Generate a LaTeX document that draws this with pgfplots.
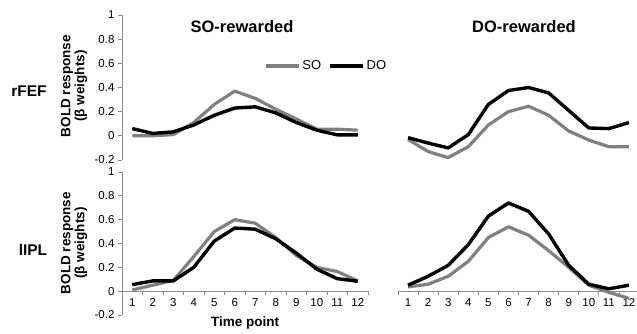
\documentclass[border=0pt]{standalone}
\usepackage{pgfplots}
\usepackage{pgfplotstable}
\pgfplotsset{compat=1.18}
\usepackage{fontspec}
\setmainfont{Liberation Sans}
\definecolor{sogray}{RGB}{128,128,128}
\definecolor{axgray}{RGB}{140,140,140}

% SO-rewarded, rFEF
\pgfplotstableread{
t SO DO
1 0.00 0.06
2 0.00 0.02
3 0.01 0.033
4 0.11 0.09
5 0.26 0.17
6 0.37 0.23
7 0.31 0.24
8 0.22 0.19
9 0.14 0.11
10 0.055 0.047
11 0.055 0.008
12 0.047 0.008
}\tlt
% DO-rewarded, rFEF
\pgfplotstableread{
t SO DO
1 -0.03 -0.015
2 -0.13 -0.06
3 -0.18 -0.10
4 -0.09 0.01
5 0.09 0.26
6 0.20 0.375
7 0.245 0.40
8 0.17 0.355
9 0.04 0.21
10 -0.035 0.065
11 -0.09 0.06
12 -0.09 0.11
}\trt
% SO-rewarded, lIPL
\pgfplotstableread{
t SO DO
1 0.01 0.055
2 0.05 0.086
3 0.09 0.086
4 0.29 0.20
5 0.50 0.42
6 0.60 0.53
7 0.57 0.52
8 0.45 0.44
9 0.30 0.32
10 0.20 0.185
11 0.165 0.105
12 0.086 0.083
}\blt
% DO-rewarded, lIPL
\pgfplotstableread{
t SO DO
1 0.036 0.05
2 0.058 0.125
3 0.125 0.217
4 0.25 0.39
5 0.45 0.63
6 0.54 0.74
7 0.47 0.67
8 0.34 0.48
9 0.20 0.217
10 0.05 0.058
11 -0.01 0.02
12 -0.06 0.05
}\brt

\pgfplotsset{
  panel/.style={scale only axis, xmin=0.5, xmax=12.5, ymin=-0.2, ymax=1, clip=false,
    tick label style={font=\fontsize{11.5}{13}\selectfont, text=black},
    axis line style={-, axgray, line width=0.9pt},
    major tick length=4pt, minor tick length=4pt,
    every tick/.style={axgray, line width=0.8pt},
  },
  yL/.style={axis y line*=left, ytick={-0.2,0,0.2,0.4,0.6,0.8,1},
    yticklabels={-0.2,0,0.2,0.4,0.6,0.8,1}, ytick align=outside},
  xB/.style={axis x line*=middle, xtick={1,2,3,4,5,6,7,8,9,10,11,12},
    xticklabels={1,2,3,4,5,6,7,8,9,10,11,12},
    major x tick style={draw=none},
    minor xtick={0.5,1.5,2.5,3.5,4.5,5.5,6.5,7.5,8.5,9.5,10.5,11.5,12.5},
    minor x tick style={axgray, line width=0.8pt},
    xtick align=outside},
  soline/.style={sogray, line width=3.2pt, line join=round, no markers},
  doline/.style={black, line width=3.4pt, line join=round, no markers},
}

\begin{document}
\begin{tikzpicture}[x=1pt,y=1pt]
% top-left
\begin{axis}[panel, yL, hide x axis, at={(122pt,173pt)}, anchor=south west,
  width=246pt, height=145pt,
  legend style={at={(rel axis cs:0.83,0.648)}, anchor=center, draw=none, fill=none,
    legend columns=2, font=\fontsize{13}{14}\selectfont,
    /tikz/every even column/.append style={column sep=5pt}},
  legend image code/.code={\draw[#1] (0pt,0pt) -- (33pt,0pt);}]
\addplot[soline] table[x=t,y=SO] {\tlt};
\addlegendentry{SO}
\addplot[doline] table[x=t,y=DO] {\tlt};
\addlegendentry{DO}
\end{axis}
% top-right
\begin{axis}[panel, hide axis, at={(398pt,173pt)}, anchor=south west,
  width=241pt, height=145pt]
\addplot[soline] table[x=t,y=SO] {\trt};
\addplot[doline] table[x=t,y=DO] {\trt};
\end{axis}
% bottom-left
\begin{axis}[panel, yL, xB, at={(122pt,18pt)}, anchor=south west,
  width=246pt, height=143pt]
\addplot[soline] table[x=t,y=SO] {\blt};
\addplot[doline] table[x=t,y=DO] {\blt};
\end{axis}
% bottom-right
\begin{axis}[panel, xB, hide y axis, at={(398pt,18pt)}, anchor=south west,
  width=241pt, height=143pt]
\addplot[soline] table[x=t,y=SO] {\brt};
\addplot[doline] table[x=t,y=DO] {\brt};
\end{axis}

\node[font=\bfseries\fontsize{16.5}{18}\selectfont] at (242,306) {SO-rewarded};
\node[font=\bfseries\fontsize{16.5}{18}\selectfont] at (524,306) {DO-rewarded};
\node[font=\bfseries\fontsize{15.5}{17}\selectfont] at (29,242) {rFEF};
\node[font=\bfseries\fontsize{15.5}{17}\selectfont] at (33,83) {lIPL};
\node[rotate=90, align=center, font=\bfseries\fontsize{13.5}{14}\selectfont] at (74,247) {BOLD response\\(β weights)};
\node[rotate=90, align=center, font=\bfseries\fontsize{13.5}{14}\selectfont] at (74,90) {BOLD response\\(β weights)};
\node[font=\bfseries\fontsize{13.5}{15}\selectfont] at (245,10) {Time point};

\pgfresetboundingbox
\path[use as bounding box] (0,0) rectangle (637,333);
\end{tikzpicture}
\end{document}
